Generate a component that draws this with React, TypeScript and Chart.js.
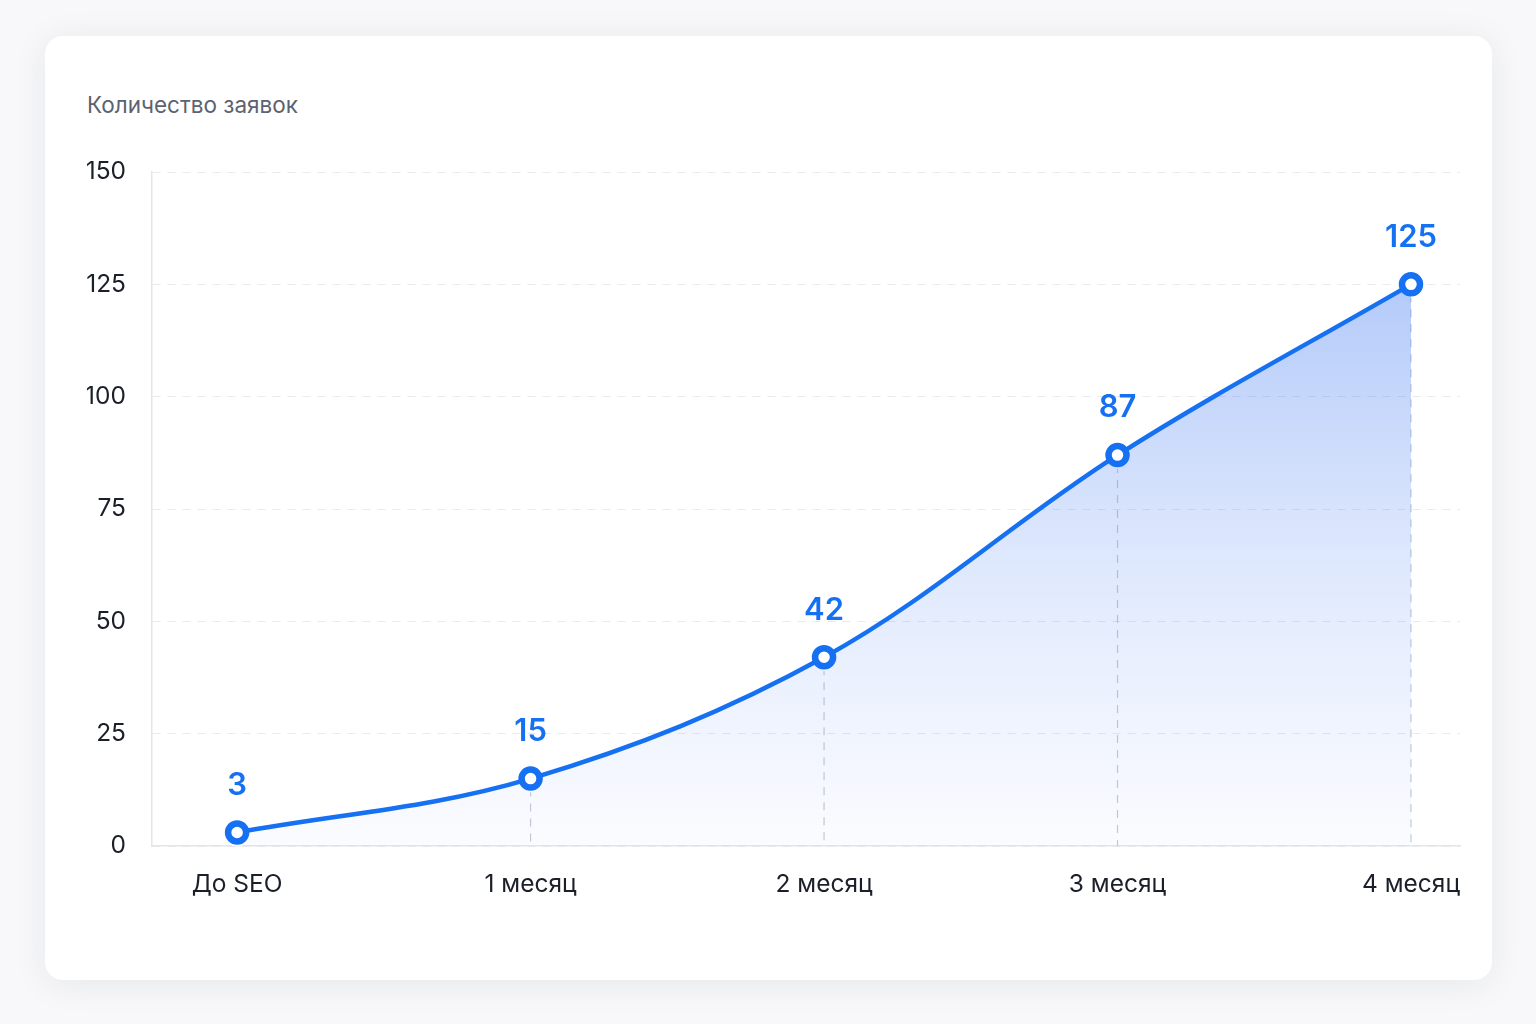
import React, { useEffect, useRef } from "react";
import { Chart, registerables } from "chart.js";

Chart.register(...registerables);

const categories = ["До SEO", "1 месяц", "2 месяц", "3 месяц", "4 месяц"];
const requests = [3, 15, 42, 87, 125];
const yTicks = [0, 25, 50, 75, 100, 125, 150];
const chartTitle = "Количество заявок";

const BLUE = "#1670f2";
const FONT = "Inter, 'Noto Sans', sans-serif";

const guidePlugin = {
  id: "guides",
  beforeDatasetsDraw(chart: any) {
    const meta = chart.getDatasetMeta(1);
    const { ctx, chartArea } = chart;
    ctx.save();
    ctx.strokeStyle = "#c4c9d4";
    ctx.lineWidth = 1.2;
    ctx.setLineDash([8, 7]);
    meta.data.forEach((pt: any, i: number) => {
      if (i === 0) return;
      ctx.beginPath();
      ctx.moveTo(pt.x, pt.y + 10);
      ctx.lineTo(pt.x, chartArea.bottom);
      ctx.stroke();
    });
    ctx.restore();
  },
  afterDatasetsDraw(chart: any) {
    const meta = chart.getDatasetMeta(1);
    const { ctx } = chart;
    ctx.save();
    ctx.fillStyle = BLUE;
    ctx.font = `600 31px ${FONT}`;
    ctx.textAlign = "center";
    ctx.textBaseline = "middle";
    meta.data.forEach((pt: any, i: number) => {
      ctx.fillText(String(requests[i]), pt.x, pt.y - 47);
    });
    ctx.restore();
  },
};

export default function App() {
  const ref = useRef<HTMLCanvasElement | null>(null);

  useEffect(() => {
    const canvas = ref.current!;
    const pts = requests.map((v, i) => ({ x: i, y: v }));
    const chart = new Chart(canvas, {
      type: "line",
      data: {
        datasets: [
          {
            data: pts,
            showLine: false,
            pointRadius: 14,
            pointBackgroundColor: "#ffffff",
            pointBorderWidth: 0,
            pointHoverRadius: 14,
            order: 2,
          } as any,
          {
            data: pts,
            borderColor: BLUE,
            borderWidth: 4.5,
            tension: 0.35,
            fill: "origin",
            backgroundColor: (c: any) => {
              const { ctx, chartArea } = c.chart;
              if (!chartArea) return "rgba(60,120,240,0.2)";
              const g = ctx.createLinearGradient(0, chartArea.top + 100, 0, chartArea.bottom);
              g.addColorStop(0, "rgba(70,125,240,0.42)");
              g.addColorStop(0.5, "rgba(90,140,245,0.20)");
              g.addColorStop(1, "rgba(110,150,245,0.03)");
              return g;
            },
            pointRadius: 9,
            pointHoverRadius: 9,
            pointBackgroundColor: "#ffffff",
            pointBorderColor: BLUE,
            pointBorderWidth: 6.5,
            order: 1,
          } as any,
        ],
      },
      options: {
        animation: false,
        responsive: false,
        maintainAspectRatio: false,
        layout: { padding: { left: 87, right: 76, top: 172, bottom: 98 } },
        plugins: {
          legend: { display: false },
          tooltip: { enabled: false },
          title: { display: false },
        },
        scales: {
          x: {
            type: "linear",
            min: -0.29,
            max: 4.167,
            afterBuildTicks: (s: any) => {
              s.ticks = categories.map((_, i) => ({ value: i }));
            },
            afterFit: (s: any) => {
              s.height = 80;
            },
            grid: { display: false, drawTicks: false },
            border: { display: true, color: "#e3e5ea", width: 1.5 },
            ticks: {
              autoSkip: false,
              maxRotation: 0,
              padding: 24,
              color: "#1b1f2a",
              font: { family: FONT, size: 24.5 },
              callback: (v: any) => categories[v] ?? "",
            },
          },
          y: {
            min: 0,
            max: 150,
            afterBuildTicks: (s: any) => {
              s.ticks = yTicks.map((v) => ({ value: v }));
            },
            afterFit: (s: any) => {
              s.width = 65;
            },
            grid: { color: "#e9eaef", lineWidth: 1, drawTicks: false },
            border: { display: true, color: "#e3e5ea", width: 1.5, dash: [8, 7] },
            ticks: {
              padding: 26,
              color: "#1b1f2a",
              font: { family: FONT, size: 24.5 },
            },
          },
        } as any,
      },
      plugins: [guidePlugin],
    });
    return () => chart.destroy();
  }, []);

  return (
    <div
      style={{
        position: "fixed",
        left: 0,
        top: 0,
        width: 1536,
        height: 1024,
        background: "#f8f8fa",
        overflow: "hidden",
      }}
    >
      <div
        style={{
          position: "absolute",
          left: 45,
          top: 36,
          width: 1447,
          height: 944,
          background: "#ffffff",
          borderRadius: 18,
          boxShadow: "0 4px 34px rgba(30,40,70,0.08)",
        }}
      />
      <div
        style={{
          position: "absolute",
          left: 87,
          top: 89,
          fontFamily: FONT,
          fontSize: 22.5,
          color: "#5d6270",
          lineHeight: "32px",
        }}
      >
        {chartTitle}
      </div>
      <canvas
        ref={ref}
        width={1536}
        height={1024}
        style={{ position: "absolute", left: 0, top: 0, width: 1536, height: 1024 }}
      />
    </div>
  );
}
